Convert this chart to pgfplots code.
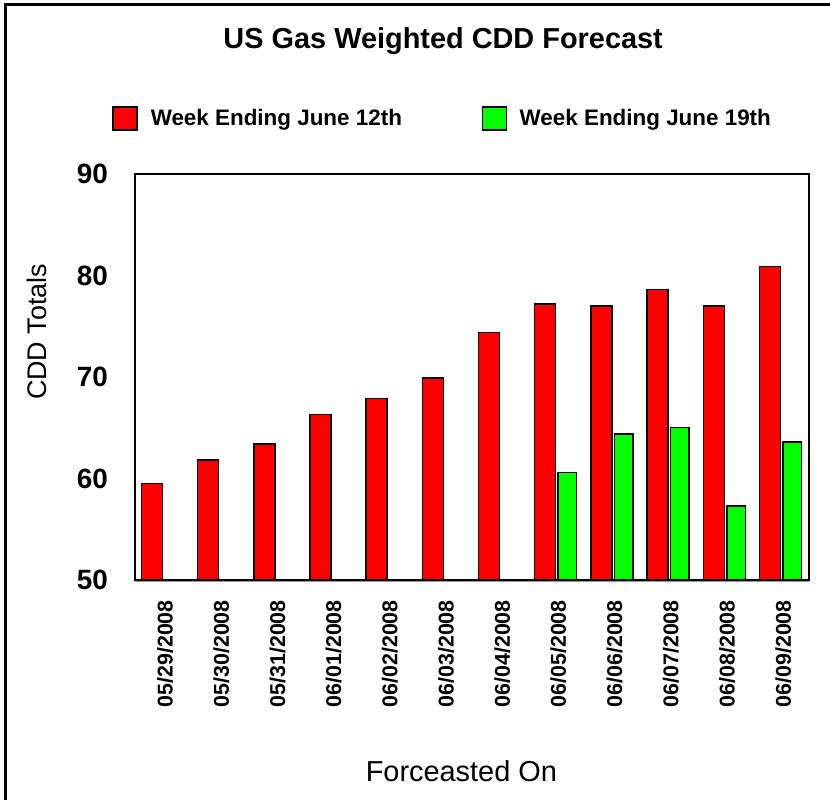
\documentclass[border=0pt]{standalone}
\usepackage{fontspec}
\setmainfont{Liberation Sans}
\usepackage{pgfplots}
\pgfplotsset{compat=1.18}
\definecolor{barred}{RGB}{255,0,0}
\definecolor{bargreen}{RGB}{0,255,0}
\begin{document}
\begin{tikzpicture}[x=1bp,y=1bp]
\useasboundingbox (0,0) rectangle (830,800);
\draw[line width=2.5bp] (5.3,0) -- (5.3,795.7) -- (830,795.7);
\draw[gray!80, line width=1.5bp] (135,218.3) -- (809.3,218.3);
\begin{axis}[
  at={(135bp,220bp)}, anchor=south west,
  width=674.3bp, height=406bp, scale only axis,
  xmin=-0.5, xmax=11.5, ymin=50, ymax=90,
  ytick={50,60,70,80,90},
  xtick={0,1,2,3,4,5,6,7,8,9,10,11},
  xticklabels={05/29/2008,05/30/2008,05/31/2008,06/01/2008,06/02/2008,06/03/2008,06/04/2008,06/05/2008,06/06/2008,06/07/2008,06/08/2008,06/09/2008},
  major tick length=0pt,
  axis line style={line width=2bp},
  /pgf/number format/assume math mode=true,
  yticklabel style={font=\fontsize{28}{28}\selectfont\bfseries, anchor=east, inner sep=0pt, xshift=-27bp},
  xticklabel style={font=\fontsize{21.5}{21.5}\selectfont\bfseries, inner sep=0pt, yshift=-20bp, xshift=2bp, rotate=90, anchor=east},
  title={US Gas Weighted CDD Forecast},
  title style={font=\fontsize{29}{29}\selectfont\bfseries, at={(axis description cs:0.457,1.312)}, anchor=center, inner sep=0pt},
  xlabel={Forceasted On},
  xlabel style={font=\fontsize{29}{29}\selectfont, at={(axis description cs:0.484,-0.472)}, anchor=center, inner sep=0pt},
  ylabel={CDD Totals},
  ylabel style={font=\fontsize{27}{27}\selectfont, at={(axis description cs:-0.145,0.611)}, anchor=center, inner sep=0pt},
  legend columns=2,
  legend style={at={(axis description cs:-0.0341,1.137)}, anchor=west, draw=none, fill=none, inner sep=0pt, outer sep=0pt,
    font=\fontsize{22.5}{22.5}\selectfont\bfseries, nodes={inner sep=0pt},
    /tikz/every even column/.append style={column sep=80bp}},
  legend cell align=left,
]
\addplot[ybar, bar width=21bp, bar shift=-11.2bp, fill=barred, draw=black, line width=1.5bp,
  legend image code/.code={\draw[fill=barred, draw=black, line width=1.5bp] (0,-11.5bp) rectangle (24bp,11.5bp); \path[draw=none, fill=none] (0,0) -- (38bp,0);}]
  coordinates {(0,59.5) (1,61.8) (2,63.4) (3,66.3) (4,67.9) (5,69.9) (6,74.4) (7,77.2) (8,77.0) (9,78.6) (10,77.0) (11,80.9)};
\addlegendentry{Week Ending June 12th}
\addplot[ybar, bar width=18.5bp, bar shift=11bp, fill=bargreen, draw=black, line width=1.5bp,
  legend image code/.code={\draw[fill=bargreen, draw=black, line width=1.5bp] (0,-11.5bp) rectangle (24bp,11.5bp); \path[draw=none, fill=none] (0,0) -- (37bp,0);}]
  coordinates {(7,60.6) (8,64.4) (9,65.0) (10,57.3) (11,63.6)};
\addlegendentry{Week Ending June 19th}
\end{axis}
\end{tikzpicture}
\end{document}
